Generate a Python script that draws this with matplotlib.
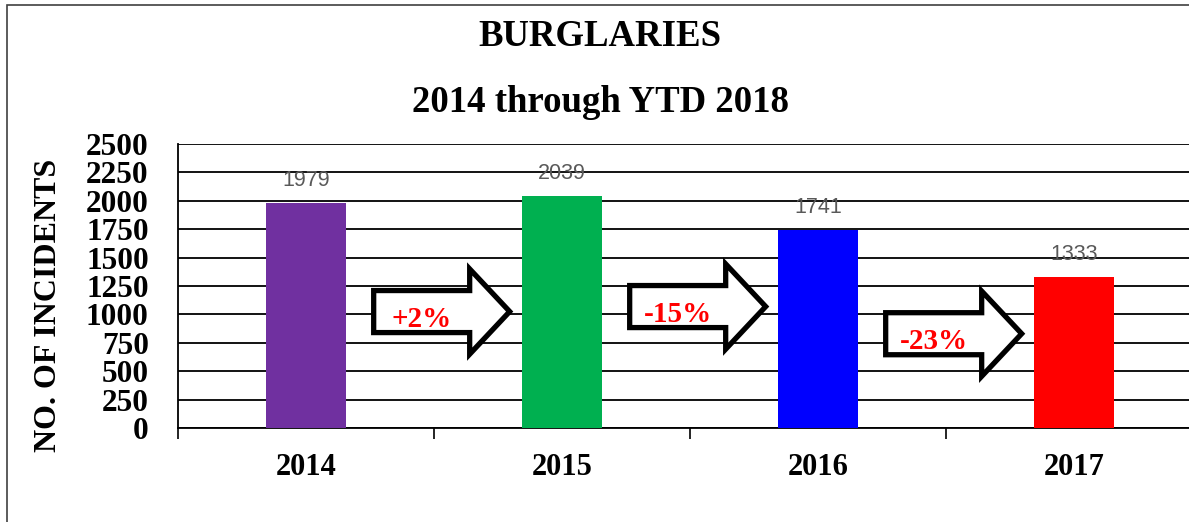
import matplotlib
matplotlib.use("Agg")
import matplotlib.pyplot as plt
from matplotlib.patches import Polygon, Rectangle

years = ["2014", "2015", "2016", "2017"]
incidents = [1979, 2039, 1741, 1333]
bar_colors = ["#7030A0", "#00B050", "#0000FF", "#FF0000"]
change_labels = ["+2%", "-15%", "-23%"]
arrow_levels = [1025, 1069, 830]
y_ticks = [0, 250, 500, 750, 1000, 1250, 1500, 1750, 2000, 2250, 2500]

serif = ["Liberation Serif", "DejaVu Serif"]

fig = plt.figure(figsize=(11.89, 5.22), dpi=100)
fig.patch.set_facecolor("white")
fig.patches.append(Rectangle((7/1189, -0.05), 1.1, 1 - 5/522 + 0.05,
                             transform=fig.transFigure, fill=False,
                             edgecolor="#404040", linewidth=1.2))

ax = fig.add_axes([178/1189, 1 - 428/522, 1024/1189, 284/522])
x = list(range(len(years)))
ax.bar(x, incidents, width=0.3125, color=bar_colors, zorder=3)
for xi, v in zip(x, incidents):
    ax.text(xi, v + 105, str(v), ha="center", va="bottom",
            fontsize=15.5, color="#595959", family=["Liberation Sans", "DejaVu Sans"], zorder=4)

ax.set_xlim(-0.5, 3.5)
ax.set_ylim(0, 2500)
ax.set_yticks(y_ticks)
ax.set_yticklabels([str(t) for t in y_ticks], fontsize=22.5, fontweight="bold", family=serif)
ax.set_xticks(x)
ax.set_xticklabels(years, fontsize=22, fontweight="bold", family=serif)
ax.set_xticks([-0.5, 0.5, 1.5, 2.5], minor=True)
ax.tick_params(axis="x", which="major", length=0, pad=18)
ax.tick_params(axis="x", which="minor", length=8, width=1.2, direction="out")
ax.tick_params(axis="y", length=0, pad=21)
ax.grid(axis="y", color="black", linewidth=1.3, zorder=1)
for s in ["top", "right"]:
    ax.spines[s].set_visible(False)
ax.spines["left"].set_linewidth(1.3)
ax.spines["bottom"].set_linewidth(1.3)

ax.set_ylabel("NO. OF INCIDENTS", fontsize=23, fontweight="bold", family=serif)
ax.yaxis.set_label_coords(-0.112, 0.433)

# block arrows between bars
w = 136/256
hl = 40/256
bh = 185
hh = 375
for i, (lab, cy) in enumerate(zip(change_labels, arrow_levels)):
    cx = i + 0.53
    x0 = cx - w/2
    x1 = cx + w/2
    xb = x1 - hl
    pts = [(x0, cy - bh), (xb, cy - bh), (xb, cy - hh), (x1, cy),
           (xb, cy + hh), (xb, cy + bh), (x0, cy + bh)]
    ax.add_patch(Polygon(pts, closed=True, facecolor="white", edgecolor="black",
                         linewidth=3.8, joinstyle="miter", zorder=5))
    ax.text((x0 + xb)/2, cy - 70, lab, ha="center", va="center", color="#FF0000",
            fontsize=21, fontweight="bold", family=serif, zorder=6)

fig.text(600/1189, 1 - 37/522, "BURGLARIES", ha="center", va="center",
         fontsize=26.5, fontweight="bold", family=serif)
fig.text(600/1189, 1 - 103/522, "2014 through YTD 2018", ha="center", va="center",
         fontsize=26.5, fontweight="bold", family=serif)

fig.savefig("out.png", dpi=100)
